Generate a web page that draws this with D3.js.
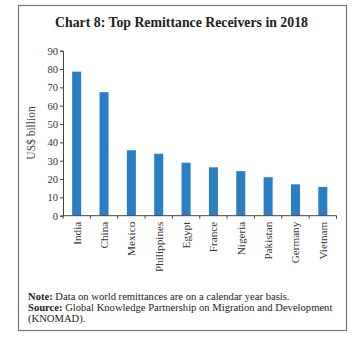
<!DOCTYPE html>
<html><head><meta charset="utf-8">
<script src="https://cdn.jsdelivr.net/npm/d3@7"></script>
<style>body{margin:0;background:#fff;}svg{display:block;}</style>
</head><body>
<script>
const categories = ["India","China","Mexico","Philippines","Egypt","France","Nigeria","Pakistan","Germany","Vietnam"];
const values = [78.6,67.4,35.7,33.8,28.9,26.4,24.3,21.0,17.1,15.7];
const yTicks = [0,10,20,30,40,50,60,70,80,90];
const title = "Chart 8: Top Remittance Receivers in 2018";
const yLabel = "US$ billion";

const W=361,H=356;
const svg=d3.select("body").append("svg").attr("width",W).attr("height",H);
const font="'Liberation Serif', 'DejaVu Serif', serif";

svg.append("rect").attr("x",18.5).attr("y",5.5).attr("width",328).attr("height",325)
  .attr("fill","none").attr("stroke","#777").attr("stroke-width",1.2);

svg.append("text").attr("x",181.5).attr("y",27).attr("text-anchor","middle")
  .attr("font-family",font).attr("font-weight","bold").attr("font-size",13.8).attr("fill","#222").text(title);

const x=d3.scaleBand().domain(categories).range([63,336.5]).paddingInner(0.67).paddingOuter(0.335);
const y=d3.scaleLinear().domain([0,90]).range([215.7,50.7]);

svg.selectAll(".bar").data(values).enter().append("rect")
  .attr("x",(d,i)=>x(categories[i])).attr("width",x.bandwidth())
  .attr("y",d=>y(d)).attr("height",d=>y(0)-y(d)).attr("fill","#2a7fc4");

const yAxis=svg.append("g").attr("transform","translate(63,0)")
  .call(d3.axisLeft(y).tickValues(yTicks).tickSize(3).tickPadding(2));
yAxis.selectAll("text").attr("font-family",font).attr("font-size",10.5).attr("fill","#333");
yAxis.selectAll("line,path").attr("stroke","#444");

const xb=d3.scaleLinear().domain([0,categories.length]).range([63,336.5]);
const xAxis=svg.append("g").attr("transform","translate(0,215.7)");
xAxis.append("line").attr("x1",63).attr("x2",336.5).attr("stroke","#444");
xAxis.selectAll(".tk").data(d3.range(categories.length+1)).enter().append("line")
  .attr("x1",d=>xb(d)).attr("x2",d=>xb(d)).attr("y1",0).attr("y2",3).attr("stroke","#444");
xAxis.selectAll(".lb").data(categories).enter().append("text")
  .attr("transform",d=>`translate(${x(d)+x.bandwidth()/2+4},6) rotate(-90)`)
  .attr("text-anchor","end").attr("font-family",font).attr("font-size",11.2).attr("fill","#333").text(d=>d);

svg.append("text").attr("transform","translate(35,133) rotate(-90)").attr("text-anchor","middle")
  .attr("font-family",font).attr("font-size",11.5).attr("fill","#444").text(yLabel);

const notes=svg.append("g").attr("font-family",font).attr("font-size",10.6).attr("fill","#222");
const n1=notes.append("text").attr("x",28).attr("y",300);
n1.append("tspan").attr("font-weight","bold").text("Note:");
n1.append("tspan").text(" Data on world remittances are on a calendar year basis.");
const n2=notes.append("text").attr("x",28).attr("y",311);
n2.append("tspan").attr("font-weight","bold").text("Source:");
n2.append("tspan").text(" Global Knowledge Partnership on Migration and Development");
notes.append("text").attr("x",28).attr("y",322).text("(KNOMAD).");
</script>
</body></html>
